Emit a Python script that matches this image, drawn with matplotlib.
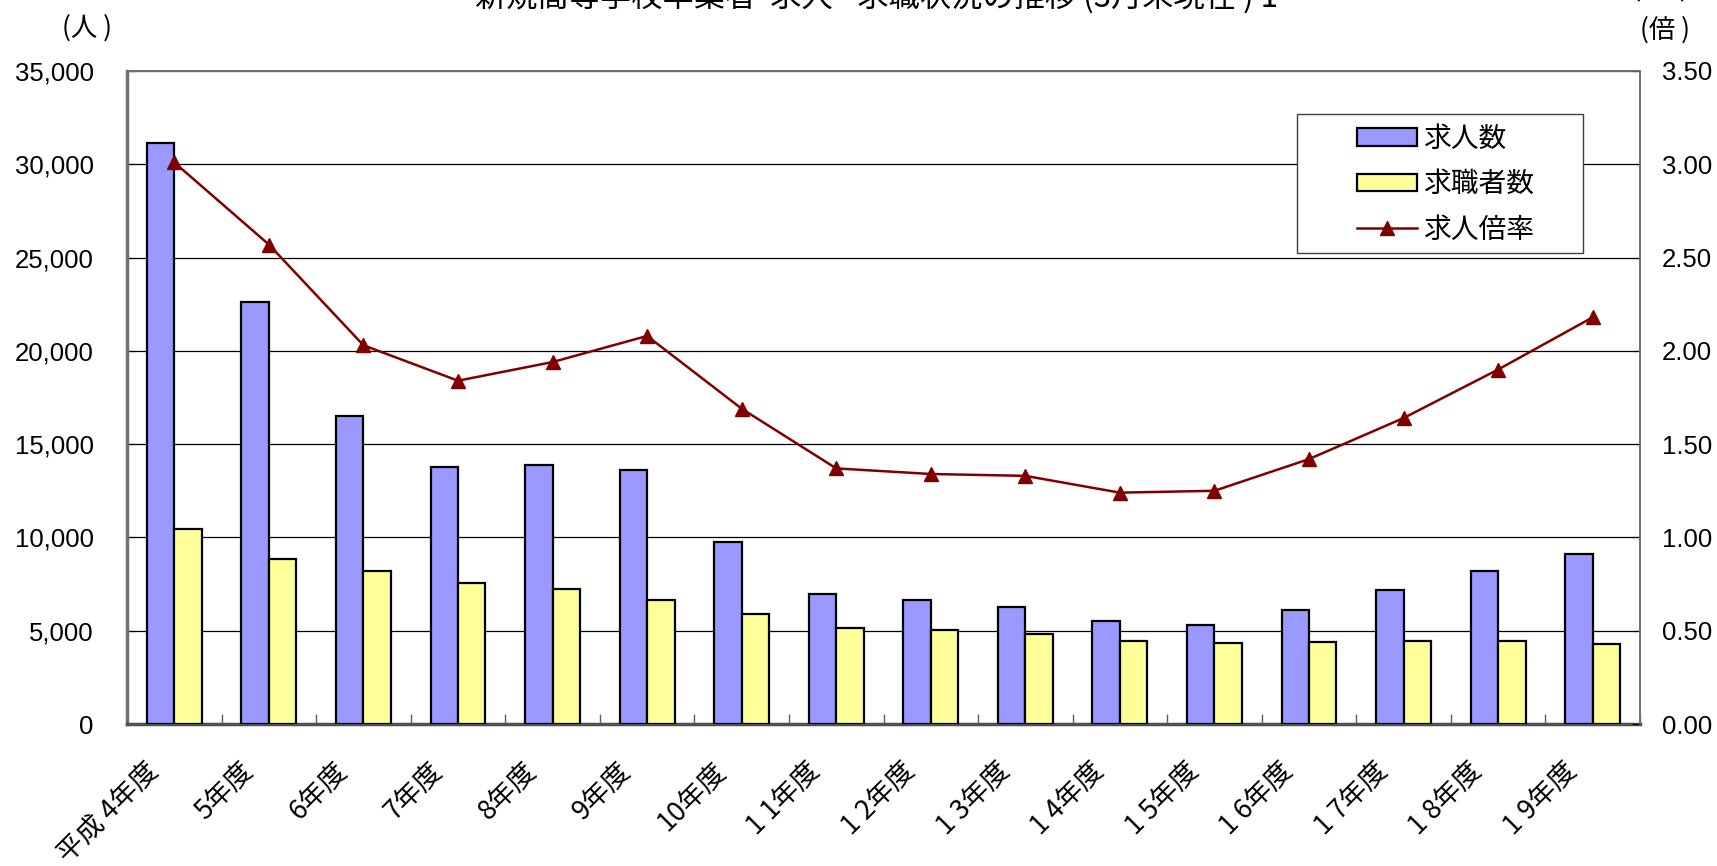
import matplotlib
matplotlib.use("Agg")
import matplotlib.pyplot as plt
import matplotlib.transforms as mtransforms
from matplotlib.patches import Rectangle
from matplotlib.ticker import FuncFormatter, MultipleLocator
import numpy as np

categories = ["平成 4年度", "5年度", "6年度", "7年度", "8年度", "9年度", "10年度",
              "1 1年度", "1 2年度", "1 3年度", "1 4年度", "1 5年度", "1 6年度",
              "1 7年度", "1 8年度", "1 9年度"]
job_offers = [31120, 22610, 16500, 13800, 13860, 13620, 9750, 6990, 6640, 6280,
              5520, 5290, 6110, 7160, 8220, 9100]
job_seekers = [10450, 8870, 8220, 7580, 7220, 6640, 5870, 5170, 5050, 4820,
               4460, 4350, 4400, 4460, 4460, 4290]
ratio = [3.01, 2.57, 2.03, 1.84, 1.94, 2.08, 1.69, 1.37, 1.34, 1.33, 1.24,
         1.25, 1.42, 1.64, 1.90, 2.18]

CJK = ["Noto Sans CJK JP", "DejaVu Sans"]
NUM = ["Liberation Sans", "DejaVu Sans"]

plt.rcParams["font.family"] = CJK

W, H = 1717, 866
fig = plt.figure(figsize=(W / 100, H / 100), dpi=100)
ax = fig.add_axes([127 / W, 1 - 724 / H, (1640 - 127) / W, (724 - 71) / H])
ax2 = ax.twinx()

x = np.arange(len(categories))
w = 0.29
ax.bar(x - w / 2, job_offers, w, color="#9999FF", edgecolor="black", linewidth=1.6,
       label="求人数", zorder=3)
ax.bar(x + w / 2, job_seekers, w, color="#FFFF99", edgecolor="black", linewidth=1.6,
       label="求職者数", zorder=3)
ax2.plot(x, ratio, color="#800000", linewidth=1.8, marker="^", markersize=10,
         label="求人倍率", zorder=4)

ax.set_xlim(-0.5, len(categories) - 0.5)
ax.set_ylim(0, 35000)
ax2.set_ylim(0, 3.5)
ax.yaxis.set_major_locator(MultipleLocator(5000))
ax2.yaxis.set_major_locator(MultipleLocator(0.5))
ax.yaxis.set_major_formatter(FuncFormatter(lambda v, p: f"{int(v):,}"))
ax2.yaxis.set_major_formatter(FuncFormatter(lambda v, p: f"{v:.2f}"))

ax.grid(axis="y", color="black", linewidth=0.9, zorder=0)
ax.set_axisbelow(True)

ax.set_xticks(x)
ax.set_xticklabels(categories, rotation=45, ha="right", va="center",
                   rotation_mode="anchor", fontsize=19.5, family=CJK)
ax.set_xticks(np.arange(len(categories) + 1) - 0.5, minor=True)
ax.tick_params(axis="x", which="major", length=0, pad=31)
ax.tick_params(axis="x", which="minor", direction="in", length=7, width=1, color="#606060")
offset = mtransforms.ScaledTranslation(-20 / 100, 0, fig.dpi_scale_trans)
for lab in ax.get_xticklabels():
    lab.set_transform(lab.get_transform() + offset)

ax.tick_params(axis="y", direction="in", length=6, pad=24, labelsize=18.5)
ax2.tick_params(axis="y", direction="in", length=6, pad=16, labelsize=18.5)
for lab in ax.get_yticklabels() + ax2.get_yticklabels():
    lab.set_family(NUM)

for a in (ax, ax2):
    for s in a.spines.values():
        s.set_color("#707070")
        s.set_linewidth(1.2)
ax.spines["left"].set_linewidth(2.5)
ax.spines["bottom"].set_linewidth(2.5)
ax.spines["bottom"].set_color("#505050")
ax2.spines["left"].set_visible(False)
ax2.spines["bottom"].set_visible(False)

# legend
fig.patches.append(Rectangle((1297 / W, 1 - 253 / H), 286 / W, 139 / H,
                             transform=fig.transFigure, facecolor="white",
                             edgecolor="#404040", linewidth=1.0, zorder=5))
h1, l1 = ax.get_legend_handles_labels()
h2, l2 = ax2.get_legend_handles_labels()
leg = fig.legend(h1 + h2, l1 + l2, loc="upper left",
                 bbox_to_anchor=(1357 / W, 1 - 124 / H), bbox_transform=fig.transFigure,
                 fontsize=20, frameon=False, borderpad=0, labelspacing=0.55,
                 handlelength=2.15, handleheight=0.6, handletextpad=0.25,
                 borderaxespad=0)
leg.set_zorder(6)
for t in leg.get_texts():
    t.set_family(CJK)

fig.text(87 / W, 1 - 28 / H, "(人 )", fontsize=19, ha="center", va="center", family=CJK)
fig.text(1665 / W, 1 - 30 / H, "(倍 )", fontsize=19, ha="center", va="center", family=CJK)
fig.text(1660 / W, 1 + 8 / H, "（イ  ）", fontsize=19, ha="center", va="center", family=CJK)
fig.text(876 / W, 1 + 2 / H, "新規高等学校卒業者  求人 ·求職状況の推移 (3月末現在 ) 1",
         fontsize=22.5, ha="center", va="center", family=CJK)

fig.savefig("out.png", dpi=100)
